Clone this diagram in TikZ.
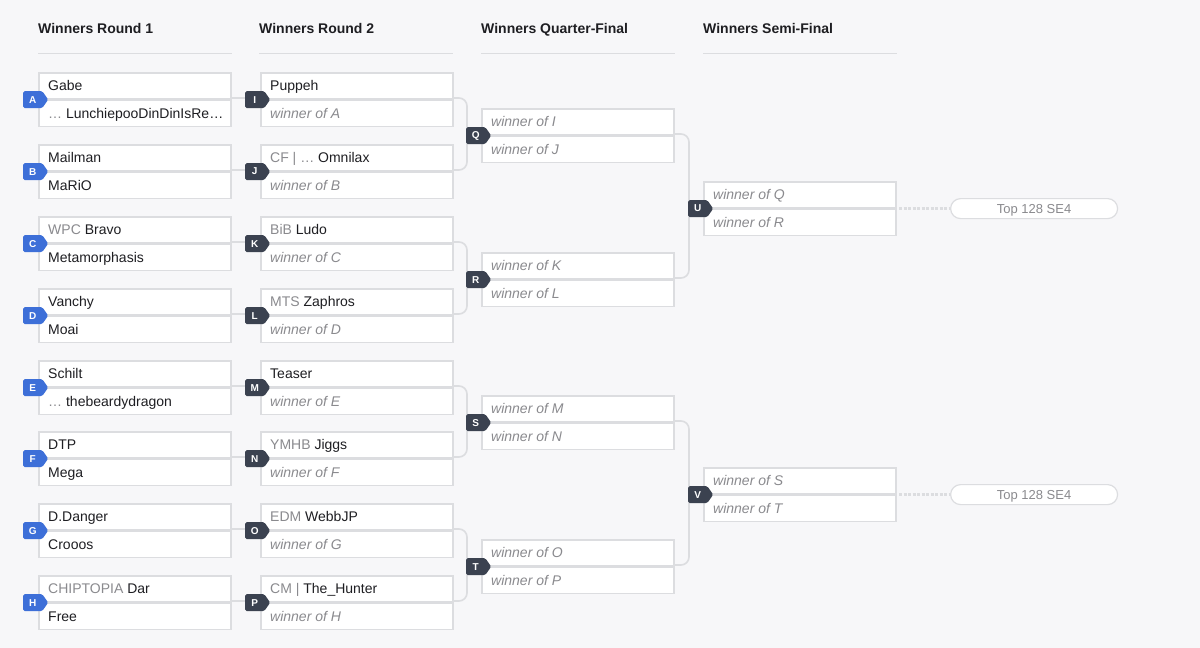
\documentclass[tikz,border=0pt]{standalone}
\usepackage{fontspec}
\setmainfont{Liberation Sans}
\usetikzlibrary{shapes.symbols,positioning}
\definecolor{bgcol}{HTML}{F7F7F9}
\definecolor{linecol}{HTML}{DCDDE0}
\definecolor{badgeblue}{HTML}{3D6FD8}
\definecolor{badgedark}{HTML}{3B4250}
\definecolor{soft}{HTML}{8A8A8E}
\definecolor{ink}{HTML}{1E1E22}
\tikzset{
  row/.style={draw=linecol,line width=1.6pt,fill=white,minimum width=192.4pt,minimum height=26pt,inner sep=0pt},
  player/.style={anchor=base west,font=\fontsize{14}{16}\selectfont,text=ink,inner sep=0pt},
  badge/.style={signal,signal to=east,signal pointer angle=110,fill=#1,text=white,rounded corners=1.5pt,
    font=\fontsize{10}{11}\selectfont\bfseries,minimum height=17pt,minimum width=25pt,inner sep=1pt,anchor=west},
  head/.style={anchor=base west,font=\fontsize{14}{16}\selectfont\bfseries,text=ink,inner sep=0pt},
  link/.style={draw=linecol,line width=1.6pt,rounded corners=8pt}
}
% one match: id, left x, top y, first row, second row, badge colour
\newcommand{\bmatch}[6]{%
  \node[row,anchor=north west] (#1t) at (#2,#3) {};
  \node[row,anchor=north] (#1b) at (#1t.south) {};
  \node[player] at ([xshift=10pt,yshift=-5pt]#1t.west) {#4};
  \node[player] at ([xshift=10pt,yshift=-5pt]#1b.west) {#5};
  \coordinate (#1in) at (#1t.south west);
  \coordinate (#1out) at (#1t.south east);
  \node[badge=#6] (#1) at ([xshift=-15pt]#1in) {#1};
}
\newcommand{\gr}[1]{\textcolor{soft}{#1}}
\newcommand{\wo}[1]{\textcolor{soft}{\itshape winner of #1}}
\begin{document}
\begin{tikzpicture}[x=1pt,y=-1pt]
\fill[bgcol] (0,0) rectangle (1200,648);
\useasboundingbox (0,0) rectangle (1200,648);
% headers
\foreach \x/\t in {38/Winners Round 1,259/Winners Round 2,481/Winners Quarter-Final,703/Winners Semi-Final}{
  \node[head] at (\x,33) {\t};
  \draw[linecol,line width=1pt] (\x,53) -- +(194,0);
}
% connectors first, boxes on top
\foreach \ya/\yb in {98/98,170/170,242/242,314/314,386/386,457/457,529/529,601/601}
  \draw[link] (232,\ya) -- (250,\yb);
\foreach \ya/\yb/\xc/\xa in {98/170/467/453,242/314/467/453,386/457/467/453,529/601/467/453,
  134/278/689/675,421/565/689/675}
  \draw[link] (\xa,\ya) -| (\xc,\yb) -- (\xa,\yb);
% round 1 and round 2
\bmatch{A}{38}{72}{Gabe}{\gr{\dots} LunchiepooDinDinIsRe\dots}{badgeblue}
\bmatch{B}{38}{144}{Mailman}{MaRiO}{badgeblue}
\bmatch{C}{38}{216}{\gr{WPC} Bravo}{Metamorphasis}{badgeblue}
\bmatch{D}{38}{288}{Vanchy}{Moai}{badgeblue}
\bmatch{E}{38}{360}{Schilt}{\gr{\dots} thebeardydragon}{badgeblue}
\bmatch{F}{38}{431}{DTP}{Mega}{badgeblue}
\bmatch{G}{38}{503}{D.Danger}{Crooos}{badgeblue}
\bmatch{H}{38}{575}{\gr{CHIPTOPIA} Dar}{Free}{badgeblue}
\bmatch{I}{260}{72}{Puppeh}{\wo{A}}{badgedark}
\bmatch{J}{260}{144}{\gr{CF | \dots} Omnilax}{\wo{B}}{badgedark}
\bmatch{K}{260}{216}{\gr{BiB} Ludo}{\wo{C}}{badgedark}
\bmatch{L}{260}{288}{\gr{MTS} Zaphros}{\wo{D}}{badgedark}
\bmatch{M}{260}{360}{Teaser}{\wo{E}}{badgedark}
\bmatch{N}{260}{431}{\gr{YMHB} Jiggs}{\wo{F}}{badgedark}
\bmatch{O}{260}{503}{\gr{EDM} WebbJP}{\wo{G}}{badgedark}
\bmatch{P}{260}{575}{\gr{CM |} The\_Hunter}{\wo{H}}{badgedark}
% quarter and semi finals
\bmatch{Q}{481}{108}{\wo{I}}{\wo{J}}{badgedark}
\bmatch{R}{481}{252}{\wo{K}}{\wo{L}}{badgedark}
\bmatch{S}{481}{395}{\wo{M}}{\wo{N}}{badgedark}
\bmatch{T}{481}{539}{\wo{O}}{\wo{P}}{badgedark}
\bmatch{U}{703}{181}{\wo{Q}}{\wo{R}}{badgedark}
\bmatch{V}{703}{467}{\wo{S}}{\wo{T}}{badgedark}
% next stage
\foreach \m/\f in {U/fu,V/fv}{
  \node[draw=linecol,line width=1.2pt,fill=white,rounded corners=10pt,minimum width=167pt,minimum height=20pt,
    text height=9.5pt,text depth=0pt,
    font=\fontsize{13}{15}\selectfont,text=soft,anchor=west] (\f) at ([xshift=53pt]\m out) {Top 128 SE4};
  \draw[linecol,line width=3pt,dash pattern=on 3pt off 1.5pt] ([xshift=2pt]\m out) -- (\f);
}
\end{tikzpicture}
\end{document}
